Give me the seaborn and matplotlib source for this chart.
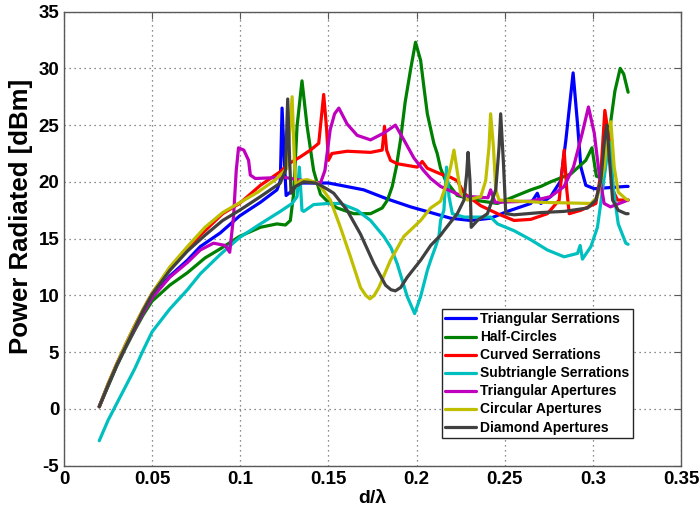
import matplotlib
matplotlib.use("Agg")
import matplotlib.pyplot as plt
import seaborn as sns

# ---------------- data ----------------
series_names = ["Triangular Serrations", "Half-Circles", "Curved Serrations",
                "Subtriangle Serrations", "Triangular Apertures",
                "Circular Apertures", "Diamond Apertures"]
series_colors = ["#0000ff", "#008000", "#ff0000", "#00bfbf", "#bf00bf",
                 "#bfbf00", "#404040"]

tri_serr_x = [0.02, 0.025, 0.03, 0.035, 0.04, 0.045, 0.05, 0.06, 0.07, 0.0773, 0.0886, 0.0996,
              0.1114, 0.1208, 0.1227, 0.1237, 0.125, 0.126, 0.1284, 0.1322, 0.15, 0.1568, 0.17,
              0.1833, 0.1966, 0.208, 0.2193, 0.2307, 0.242, 0.2515, 0.2648, 0.2685, 0.2705, 0.276,
              0.2818, 0.2847, 0.2888, 0.2913, 0.2932, 0.296, 0.3008, 0.3187, 0.32]
tri_serr_y = [0.2, 2.1, 3.9, 5.5, 7.1, 8.6, 9.9, 11.7, 13.1, 14.3, 15.5, 17.0,
              18.2, 19.3, 20.1, 26.5, 21.9, 18.8, 19.1, 19.9, 19.9, 19.7, 19.3,
              18.5, 17.8, 17.3, 16.8, 16.6, 16.8, 17.4, 18.1, 19.0, 18.1, 18.7,
              20.1, 23.7, 29.6, 25.1, 21.3, 19.7, 19.4, 19.6, 19.6]

half_circ_x = [0.02, 0.025, 0.03, 0.035, 0.04, 0.045, 0.05, 0.06, 0.07, 0.08, 0.0886, 0.0996,
               0.1114, 0.1208, 0.1256, 0.1284, 0.1303, 0.1322, 0.135, 0.1379, 0.1416, 0.1455,
               0.15, 0.155, 0.1644, 0.1739, 0.1805, 0.1835, 0.1862, 0.1885, 0.1909, 0.1935,
               0.1966, 0.1994, 0.2023, 0.2042, 0.2061, 0.2098, 0.2117, 0.2136, 0.2165, 0.2231,
               0.2326, 0.2459, 0.2553, 0.2648, 0.2705, 0.276, 0.2875, 0.296, 0.2995, 0.302,
               0.306, 0.309, 0.3125, 0.3155, 0.3175, 0.32]
half_circ_y = [0.2, 2.0, 3.8, 5.4, 6.9, 8.3, 9.5, 10.9, 12.0, 13.3, 14.1, 15.2,
               16.0, 16.3, 16.2, 16.6, 19.0, 24.9, 28.9, 24.9, 21.0, 18.9,
               18.2, 17.7, 17.2, 17.2, 17.7, 18.4, 19.6, 21.3, 23.7, 27.0,
               29.9, 32.3, 30.7, 28.3, 26.0, 23.4, 22.5, 21.2, 20.1, 18.8,
               18.4, 18.1, 18.7, 19.3, 19.6, 20.0, 20.7, 21.9, 23.0, 20.5,
               20.3, 24.0, 28.0, 30.0, 29.5, 27.9]

curved_x = [0.02, 0.025, 0.03, 0.035, 0.04, 0.045, 0.05, 0.06, 0.07, 0.0773, 0.09, 0.0996,
            0.1114, 0.1227, 0.1275, 0.134, 0.1398, 0.1445, 0.1473, 0.1489, 0.150, 0.152, 0.1606,
            0.1739, 0.1805, 0.1818, 0.183, 0.1852, 0.189, 0.2004, 0.2032, 0.2061, 0.2136, 0.2193,
            0.2231, 0.2269, 0.2364, 0.2459, 0.2553, 0.2648, 0.2742, 0.2809, 0.2837, 0.2852,
            0.2866, 0.2932, 0.3017, 0.3045, 0.3068, 0.3093, 0.3112, 0.314, 0.32]
curved_y = [0.2, 2.2, 4.0, 5.7, 7.3, 8.8, 10.2, 12.4, 14.2, 15.3, 17.2, 18.1,
            19.7, 20.9, 21.6, 22.2, 22.8, 23.4, 27.7, 24.8, 21.9, 22.5, 22.7,
            22.6, 22.8, 24.9, 22.8, 21.9, 21.6, 21.3, 21.8, 21.2, 20.7, 20.4,
            20.1, 19.0, 17.9, 17.2, 16.6, 16.7, 17.2, 18.4, 22.8, 19.3,
            17.2, 17.5, 18.1, 20.7, 26.3, 23.7, 19.3, 18.4, 18.4]

subtri_x = [0.02, 0.025, 0.03, 0.035, 0.04, 0.045, 0.05, 0.06, 0.07, 0.0773, 0.0886, 0.0996,
            0.1114, 0.1227, 0.1294, 0.1322, 0.1335, 0.135, 0.136, 0.1416, 0.15, 0.1568, 0.1663,
            0.1739, 0.1814, 0.1855, 0.189, 0.1947, 0.1989, 0.2023, 0.2061, 0.208, 0.2108, 0.2127,
            0.2136, 0.2155, 0.217, 0.2184, 0.2203, 0.2269, 0.242, 0.2459, 0.2553, 0.2648, 0.2742,
            0.2837, 0.2913, 0.2928, 0.2941, 0.2989, 0.3026, 0.3055, 0.308, 0.3098, 0.3117,
            0.3144, 0.3187, 0.32]
subtri_y = [-2.8, -1.0, 0.5, 2.0, 3.5, 5.2, 6.8, 8.8, 10.5, 11.9, 13.6, 15.1,
            16.3, 17.4, 18.1, 18.7, 21.3, 17.5, 17.4, 18.0, 18.1, 18.1, 17.5,
            16.6, 15.2, 14.2, 12.8, 9.9, 8.4, 9.9, 12.2, 13.1, 14.3, 15.2,
            16.6, 17.5, 21.3, 18.7, 17.2, 16.9, 16.9, 16.3, 15.7, 14.9, 14.0,
            13.4, 13.7, 14.4, 13.2, 14.3, 16.0, 19.3, 22.2, 23.5, 19.3,
            16.3, 14.6, 14.5]

tri_ap_x = [0.02, 0.025, 0.03, 0.035, 0.04, 0.045, 0.05, 0.06, 0.07, 0.0773, 0.0848, 0.0915,
            0.094, 0.0962, 0.0977, 0.099, 0.102, 0.1047, 0.1057, 0.1085, 0.125, 0.14, 0.1455,
            0.148, 0.151, 0.1535, 0.1559, 0.1606, 0.1663, 0.1739, 0.1814, 0.188, 0.1928, 0.1985,
            0.204, 0.208, 0.2136, 0.225, 0.2307, 0.2405, 0.242, 0.2445, 0.2648, 0.276, 0.2837,
            0.289, 0.294, 0.2975, 0.3008, 0.3036, 0.3064, 0.31, 0.315, 0.32]
tri_ap_y = [0.2, 2.1, 3.9, 5.5, 7.0, 8.5, 9.8, 11.6, 12.9, 14.0, 14.6, 14.4,
            13.8, 17.0, 21.0, 23.0, 22.8, 21.9, 20.6, 20.3, 20.4, 20.0, 19.9,
            21.0, 24.6, 26.0, 26.5, 25.1, 24.1, 23.7, 24.3, 25.0, 23.7, 22.1,
            21.0, 20.3, 19.6, 18.8, 18.7, 18.6, 19.3, 18.2, 18.3, 18.7, 19.6,
            21.3, 24.3, 26.6, 24.3, 20.7, 18.1, 17.8, 18.1, 18.4]

circ_ap_x = [0.02, 0.025, 0.03, 0.035, 0.04, 0.045, 0.05, 0.06, 0.07, 0.08, 0.09, 0.1,
             0.11, 0.12, 0.1265, 0.1294, 0.1307, 0.1316, 0.134, 0.138, 0.1436, 0.1455, 0.1511,
             0.1568, 0.1625, 0.1682, 0.1712, 0.1735, 0.176, 0.1786, 0.1852, 0.1928, 0.2023,
             0.208, 0.2136, 0.2165, 0.2193, 0.2212, 0.2227, 0.225, 0.2288, 0.2364, 0.2392,
             0.2411, 0.242, 0.2436, 0.2449, 0.2468, 0.2705, 0.2989, 0.3026, 0.3064, 0.3087,
             0.3102, 0.3121, 0.3144, 0.3187, 0.32]
circ_ap_y = [0.2, 2.2, 4.0, 5.7, 7.3, 8.8, 10.2, 12.5, 14.3, 16.0, 17.3, 18.2,
             19.1, 20.2, 21.2, 27.5, 21.9, 19.6, 20.1, 20.2, 19.9, 19.6, 18.4,
             16.0, 13.4, 10.7, 10.0, 9.7, 10.0, 10.7, 13.1, 15.2, 16.6,
             17.7, 18.3, 19.6, 21.3, 22.8, 21.3, 19.0, 18.4, 18.7, 20.1,
             23.1, 26.0, 23.1, 19.3, 18.4, 18.2, 18.1, 18.7, 21.3, 24.6,
             25.3, 21.3, 19.1, 18.5, 18.4]

diam_ap_x = [0.02, 0.025, 0.03, 0.035, 0.04, 0.045, 0.05, 0.06, 0.07, 0.08, 0.09, 0.0996,
             0.1114, 0.1227, 0.1256, 0.1269, 0.128, 0.1288, 0.1313, 0.136, 0.1426, 0.1455, 0.15,
             0.153, 0.1606, 0.1682, 0.1758, 0.1824, 0.1855, 0.188, 0.191, 0.1947, 0.2023, 0.208,
             0.2136, 0.2155, 0.2231, 0.2269, 0.2284, 0.2292, 0.2303, 0.231, 0.2345, 0.2402,
             0.2449, 0.2468, 0.2477, 0.2493, 0.2506, 0.2553, 0.2705, 0.2837, 0.297, 0.3017,
             0.3045, 0.3068, 0.308, 0.3093, 0.3112, 0.3144, 0.3187, 0.32]
diam_ap_y = [0.2, 2.1, 3.9, 5.5, 7.1, 8.7, 10.1, 12.2, 13.9, 15.3, 16.6, 17.5,
             18.7, 19.9, 21.0, 27.3, 21.9, 19.0, 19.6, 20.0, 19.9, 19.7, 19.3,
             19.0, 17.5, 15.4, 12.8, 10.9, 10.5, 10.4, 10.7, 11.6, 13.1, 14.4,
             15.3, 15.7, 17.2, 18.4, 20.7, 22.6, 20.1, 16.0, 16.6, 17.2,
             19.3, 23.1, 26.0, 21.6, 17.2, 17.1, 17.3, 17.4, 17.7, 18.4,
             20.1, 24.0, 25.0, 22.2, 18.4, 17.5, 17.2, 17.2]

series_x = [tri_serr_x, half_circ_x, curved_x, subtri_x, tri_ap_x, circ_ap_x, diam_ap_x]
series_y = [tri_serr_y, half_circ_y, curved_y, subtri_y, tri_ap_y, circ_ap_y, diam_ap_y]

x_ticks = [0, 0.05, 0.1, 0.15, 0.2, 0.25, 0.3, 0.35]
x_tick_labels = ["0", "0.05", "0.1", "0.15", "0.2", "0.25", "0.3", "0.35"]
y_ticks = [-5, 0, 5, 10, 15, 20, 25, 30, 35]

# ---------------- style ----------------
sns.set_style("white")
plt.rcParams["font.family"] = ["Liberation Sans", "DejaVu Sans"]
plt.rcParams["font.weight"] = "bold"
plt.rcParams["axes.unicode_minus"] = False
plt.rcParams["text.color"] = "black"
plt.rcParams["axes.labelcolor"] = "black"
plt.rcParams["xtick.color"] = "black"
plt.rcParams["ytick.color"] = "black"

fig = plt.figure(figsize=(6.99, 5.15), dpi=100)
ax = fig.add_axes([64 / 699, 1 - 465.7 / 515, (681 - 64) / 699, (465.7 - 11.6) / 515])

for name, xs, ys, col in zip(series_names, series_x, series_y, series_colors):
    sns.lineplot(x=xs, y=ys, color=col, linewidth=2.3, label=name, ax=ax,
                 estimator=None, sort=False, solid_joinstyle="round",
                 solid_capstyle="round")

ax.set_xlim(0, 0.35)
ax.set_ylim(-5, 35)
ax.set_xticks(x_ticks)
ax.set_xticklabels(x_tick_labels)
ax.set_yticks(y_ticks)
ax.grid(True, linestyle=(0, (1, 3)), color="0.4", linewidth=0.9)
ax.set_axisbelow(True)

for s in ax.spines.values():
    s.set_color("0.35")
    s.set_linewidth(1.0)
    s.set_visible(True)

ax.tick_params(direction="in", length=5, width=0.8, color="0.35",
               labelcolor="black", top=True, right=True, labelsize=13.5, pad=3.5)
for lab in ax.get_xticklabels() + ax.get_yticklabels():
    lab.set_fontweight("bold")

ax.set_xlabel("d/\u03bb", fontsize=14, fontweight="bold", labelpad=2, color="black")
ax.set_ylabel("Power Radiated [dBm]", fontsize=18.5, fontweight="bold", color="black")
ax.yaxis.set_label_coords(-0.050, 0.55)

leg = ax.legend(loc="lower left", bbox_to_anchor=(0.612, 0.061), borderaxespad=0,
                frameon=True, fancybox=False, edgecolor="0.15", framealpha=1,
                prop={"size": 10, "weight": "bold"}, labelspacing=0.29,
                handlelength=2.2, handletextpad=0.3, borderpad=0.25)
leg.get_frame().set_linewidth(1.0)
for t in leg.get_texts():
    t.set_color("black")

fig.savefig("out.png", dpi=100)
